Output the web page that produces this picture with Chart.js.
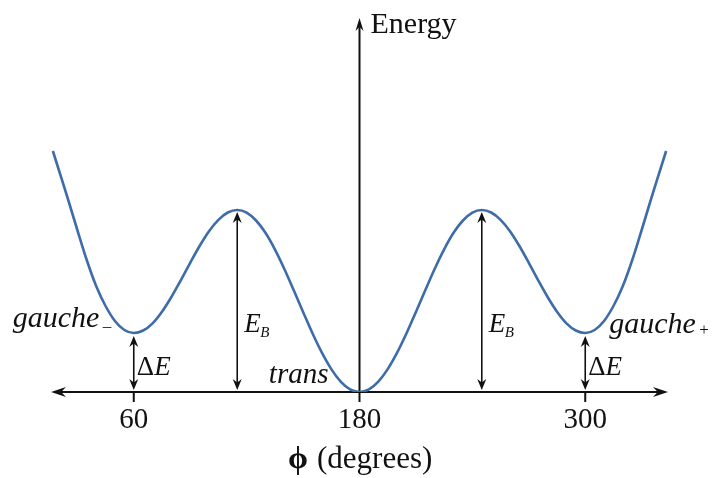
<!DOCTYPE html>
<html>
<head>
<meta charset="utf-8">
<script src="https://cdn.jsdelivr.net/npm/chart.js@4/dist/chart.umd.min.js"></script>
<style>
  html, body { margin: 0; padding: 0; background: #fff; }
  #wrap { width: 712px; height: 478px; }
</style>
</head>
<body>
<div id="wrap"><canvas id="energyChart" width="712" height="478"></canvas></div>
<script>
// torsion angle (degrees) and relative energy along the curve
const phi = [17, 20, 25, 30, 35, 40, 45, 50, 55, 60, 65, 70, 75, 80, 85, 90, 95, 100, 105, 110,
  115, 120, 125, 130, 135, 140, 145, 150, 155, 160, 165, 170, 175, 180,
  185, 190, 195, 200, 205, 210, 215, 220, 225, 230, 235, 240, 245,
  250, 255, 260, 265, 270, 275, 280, 285, 290, 295, 300,
  305, 310, 315, 320, 325, 330, 335, 340, 343];
const energy = [24.1, 22.3, 19.3, 16.2, 13.2, 10.6, 8.6, 7.1, 6.2, 5.9, 6.15, 6.87, 8.03, 9.5, 11.17, 12.92, 14.6, 16.08, 17.22, 17.95,
  18.2, 17.94, 17.15, 15.92, 14.27, 12.33, 10.19, 8.01, 5.87, 3.93, 2.29, 1.04, 0.26, 0,
  0.26, 1.04, 2.29, 3.93, 5.87, 8.01, 10.19, 12.33, 14.27, 15.92, 17.15, 17.94, 18.2,
  17.95, 17.22, 16.08, 14.6, 12.92, 11.17, 9.5, 8.03, 6.87, 6.15, 5.9,
  6.2, 7.1, 8.6, 10.6, 13.2, 16.2, 19.3, 22.3, 24.1];

const tickValues = [60, 180, 300];
const tickLabels = ['60', '180', '300'];

// conformers: gauche minima, eclipsed barriers, trans minimum
const gaucheAngles = [60, 300];
const gaucheEnergy = 5.9;
const barrierAngles = [115, 245];
const barrierEnergy = 18.2;
const transAngle = 180;

const SERIF = '"Liberation Serif", "Times New Roman", serif';
const INK = '#111';

function arrowHead(ctx, x, y, angle, len, half) {
  ctx.save();
  ctx.translate(x, y);
  ctx.rotate(angle);
  ctx.beginPath();
  ctx.moveTo(0, 0);
  ctx.lineTo(-len, -half);
  ctx.lineTo(-len * 0.68, 0);
  ctx.lineTo(-len, half);
  ctx.closePath();
  ctx.fill();
  ctx.restore();
}

// vertical double-headed arrow between two pixel heights
function doubleArrow(ctx, x, yTop, yBottom) {
  const len = 11, half = 4.5;
  ctx.lineWidth = 1.6;
  ctx.beginPath();
  ctx.moveTo(x, yTop + len * 0.6);
  ctx.lineTo(x, yBottom - len * 0.6);
  ctx.stroke();
  arrowHead(ctx, x, yTop, -Math.PI / 2, len, half);
  arrowHead(ctx, x, yBottom, Math.PI / 2, len, half);
}

const axesPlugin = {
  id: 'axesPlugin',
  beforeDatasetsDraw(chart) {
    const ctx = chart.ctx;
    const xs = chart.scales.x, ys = chart.scales.y;
    const area = chart.chartArea;
    const y0 = ys.getPixelForValue(0);
    const xT = xs.getPixelForValue(transAngle);
    ctx.save();
    ctx.strokeStyle = INK;
    ctx.fillStyle = INK;
    ctx.lineWidth = 2;

    // horizontal axis with arrows on both ends
    const aLen = 15, aHalf = 5;
    ctx.beginPath();
    ctx.moveTo(area.left + aLen * 0.6, y0);
    ctx.lineTo(area.right - aLen * 0.6, y0);
    ctx.stroke();
    arrowHead(ctx, area.left, y0, Math.PI, aLen, aHalf);
    arrowHead(ctx, area.right, y0, 0, aLen, aHalf);

    // tick marks and labels
    ctx.font = '29px ' + SERIF;
    ctx.textAlign = 'center';
    ctx.textBaseline = 'alphabetic';
    tickValues.forEach((v, i) => {
      const px = xs.getPixelForValue(v);
      ctx.beginPath();
      ctx.moveTo(px, y0);
      ctx.lineTo(px, y0 + 10);
      ctx.stroke();
      ctx.fillText(tickLabels[i], px, y0 + 36);
    });

    // energy axis
    ctx.beginPath();
    ctx.moveTo(xT, y0);
    ctx.lineTo(xT, area.top + aLen * 0.6);
    ctx.stroke();
    arrowHead(ctx, xT, area.top, -Math.PI / 2, 13, 4);
    ctx.textAlign = 'left';
    ctx.font = '30px ' + SERIF;
    ctx.fillText('Energy', xT + 11, area.top + 15);

    // axis title
    ctx.font = 'bold 32px ' + SERIF;
    ctx.fillText('\u03D5', 288, y0 + 76);
    ctx.font = '31px ' + SERIF;
    ctx.fillText('(degrees)', 317, y0 + 76);
    ctx.restore();
  },
  afterDatasetsDraw(chart) {
    const ctx = chart.ctx;
    const xs = chart.scales.x, ys = chart.scales.y;
    const y0 = ys.getPixelForValue(0);
    const yG = ys.getPixelForValue(gaucheEnergy);
    const yB = ys.getPixelForValue(barrierEnergy);
    ctx.save();
    ctx.strokeStyle = INK;
    ctx.fillStyle = INK;
    ctx.textBaseline = 'alphabetic';
    ctx.textAlign = 'left';

    gaucheAngles.forEach(a => {
      const px = xs.getPixelForValue(a);
      doubleArrow(ctx, px, yG + 3, y0 - 2);
      ctx.font = '27px ' + SERIF;
      ctx.fillText('\u0394', px + 3, y0 - 17);
      const w = ctx.measureText('\u0394').width;
      ctx.font = 'italic 27px ' + SERIF;
      ctx.fillText('E', px + 3 + w, y0 - 17);
    });

    barrierAngles.forEach(a => {
      const px = xs.getPixelForValue(a);
      doubleArrow(ctx, px, yB + 2, y0 - 2);
      ctx.font = 'italic 27px ' + SERIF;
      ctx.fillText('E', px + 7, y0 - 60);
      ctx.font = 'italic 15px ' + SERIF;
      ctx.fillText('B', px + 23, y0 - 55);
    });

    // conformer names
    const xL = xs.getPixelForValue(gaucheAngles[0]);
    const xR = xs.getPixelForValue(gaucheAngles[1]);
    ctx.font = 'italic 30px ' + SERIF;
    ctx.fillText('gauche', xL - 121, yG - 6);
    ctx.fillText('gauche', xR + 24, yG);
    ctx.font = '17px ' + SERIF;
    ctx.fillText('\u2013', xL - 31, yG - 2);
    ctx.fillText('+', xR + 114, yG + 2);

    ctx.font = 'italic 29px ' + SERIF;
    ctx.textAlign = 'right';
    ctx.fillText('trans', xs.getPixelForValue(transAngle) - 31, y0 - 9);
    ctx.restore();
  }
};

new Chart(document.getElementById('energyChart'), {
  type: 'line',
  data: {
    datasets: [{
      data: phi.map((p, i) => ({ x: p, y: energy[i] })),
      borderColor: '#3d6ca8',
      borderWidth: 2.6,
      pointRadius: 0,
      cubicInterpolationMode: 'monotone',
      fill: false
    }]
  },
  options: {
    responsive: false,
    animation: false,
    devicePixelRatio: 1,
    layout: { padding: { left: 51, right: 44, top: 18, bottom: 86 } },
    plugins: { legend: { display: false }, tooltip: { enabled: false } },
    scales: {
      x: { type: 'linear', min: 16, max: 344, display: false },
      y: { type: 'linear', min: 0, max: 37.4, display: false }
    }
  },
  plugins: [axesPlugin]
});
</script>
</body>
</html>
